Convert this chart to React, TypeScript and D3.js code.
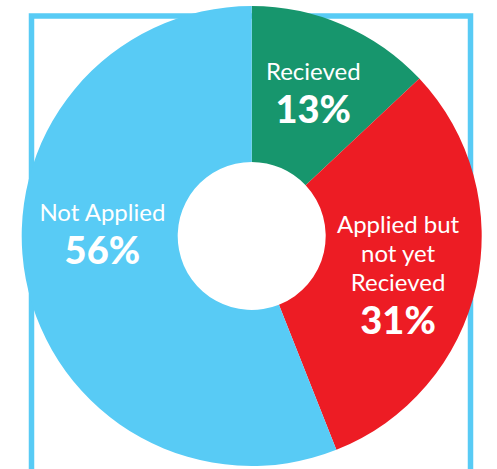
import React, { useEffect, useRef } from "react";
import * as d3 from "d3";

// chart data
const categories = ["Recieved", "Applied but not yet Recieved", "Not Applied"];
const labelLines = [["Recieved"], ["Applied but", "not yet", "Recieved"], ["Not Applied"]];
const values = [13, 31, 56];
const colors = ["#17966d", "#ed1c24", "#58cbf5"];

// layout tweaks for label blocks (dx, dy from centroid)
const labelNudge: Record<string, [number, number]> = {
  "Recieved": [2, -6],
  "Applied but not yet Recieved": [0, 6],
  "Not Applied": [-2, -31],
};

const WIDTH = 497;
const HEIGHT = 469;
const CX = 251.7;
const CY = 236;
const OUTER = 230;
const INNER = 74;
const LABEL_R = 150;
const FONT = "Lato, 'Open Sans', sans-serif";

interface Slice {
  name: string;
  lines: string[];
  value: number;
  color: string;
}

const drawDonut = (svgEl: SVGSVGElement) => {
  const data: Slice[] = categories.map((name, i) => ({
    name,
    lines: labelLines[i],
    value: values[i],
    color: colors[i],
  }));

  const svg = d3.select(svgEl);
  svg.selectAll("*").remove();
  svg.attr("width", WIDTH).attr("height", HEIGHT);

  // light blue frame behind the donut
  svg
    .append("rect")
    .attr("x", 31.5)
    .attr("y", 16)
    .attr("width", 439)
    .attr("height", 520)
    .attr("fill", "none")
    .attr("stroke", "#58cbf5")
    .attr("stroke-width", 5.5);

  const g = svg.append("g").attr("transform", `translate(${CX},${CY})`);

  const pie = d3
    .pie<Slice>()
    .value((d) => d.value)
    .sort(null);

  const arc = d3.arc<d3.PieArcDatum<Slice>>().innerRadius(INNER).outerRadius(OUTER);
  const labelArc = d3
    .arc<d3.PieArcDatum<Slice>>()
    .innerRadius(LABEL_R)
    .outerRadius(LABEL_R);

  const arcs = pie(data);

  g.selectAll("path.slice")
    .data(arcs)
    .enter()
    .append("path")
    .attr("class", "slice")
    .attr("d", arc)
    .attr("fill", (d) => d.data.color);

  const lineGap = 29;
  const pctGap = 43;
  const capH = 18;

  arcs.forEach((d) => {
    const [cx, cy] = labelArc.centroid(d);
    const [nx, ny] = labelNudge[d.data.name] || [0, 0];
    const n = d.data.lines.length;
    const blockH = capH + (n - 1) * lineGap + pctGap;
    const top = cy + ny - blockH / 2 + capH;
    const x = cx + nx;

    const t = g.append("g").attr("fill", "#fff").attr("text-anchor", "middle");
    d.data.lines.forEach((line, i) => {
      t.append("text")
        .attr("x", x)
        .attr("y", top + i * lineGap)
        .attr("font-family", FONT)
        .attr("font-size", 24)
        .attr("font-weight", 400)
        .text(line);
    });
    t.append("text")
      .attr("x", x)
      .attr("y", top + (n - 1) * lineGap + pctGap)
      .attr("font-family", FONT)
      .attr("font-size", 38)
      .attr("font-weight", 900)
      .text(`${d.data.value}%`);
  });
};

export default function App() {
  const svgRef = useRef<SVGSVGElement>(null);

  useEffect(() => {
    if (svgRef.current) drawDonut(svgRef.current);
  }, []);

  return (
    <div style={{ position: "absolute", left: 0, top: 0, background: "#fff" }}>
      <svg ref={svgRef} style={{ display: "block" }} />
    </div>
  );
}
